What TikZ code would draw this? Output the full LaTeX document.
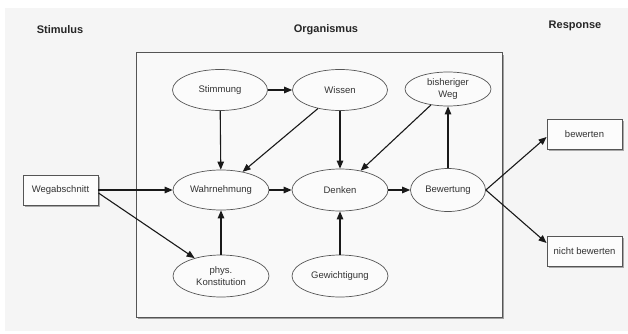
\documentclass[tikz,border=0pt]{standalone}
\usepackage{fontspec}
\setmainfont{Liberation Sans}
\usetikzlibrary{shapes.geometric,arrows.meta,shadows,calc}
\definecolor{bggray}{HTML}{F5F5F5}
\definecolor{linegray}{HTML}{555555}
\definecolor{txtgray}{HTML}{333333}
\tikzset{
  ell/.style={ellipse, draw=linegray, line width=0.7pt, fill=white!60!bggray, inner sep=0pt,
     text=txtgray, font=\fontsize{9.5}{11.5}\selectfont, align=center},
  rbox/.style={rectangle, draw=linegray, line width=0.9pt, fill=white!70!bggray, inner sep=0pt,
     minimum width=75pt, minimum height=30pt, text=txtgray, font=\fontsize{9.5}{11.5}\selectfont,
     drop shadow={shadow xshift=1.5pt, shadow yshift=-1.5pt, opacity=0.45, fill=black!70}},
  title/.style={font=\bfseries\fontsize{11}{13}\selectfont, text=black!85},
  arr/.style={-{Triangle[length=8pt,width=6.5pt]}, line width=1.1pt, black!90},
}
\begin{document}
\begin{tikzpicture}[x=1pt,y=-1pt]
\useasboundingbox (0,0) rectangle (628,334);
\fill[bggray] (5,8) rectangle (628,331);
% Organismus frame
\node[rectangle, draw=linegray, line width=1pt, fill=white!40!bggray, minimum width=366pt, minimum height=264pt, inner sep=0pt,
  drop shadow={shadow xshift=1.8pt, shadow yshift=-1.8pt, opacity=0.5, fill=black!70}] (frame) at (319,185) {};
% titles
\node[title] (tstim) at (60,30) {Stimulus};
\node[title] (torg) at (326,30) {Organismus};
\node[title] (tresp) at (575,26) {Response};
% ellipses
\node[ell, minimum width=95pt, minimum height=41pt] (stimmung) at (220,90) {Stimmung};
\node[ell, minimum width=95pt, minimum height=41pt] (wissen) at (340,90) {Wissen};
\node[ell, minimum width=86pt, minimum height=34pt] (bweg) at (448,89) {bisheriger\\Weg};
\node[ell, minimum width=96pt, minimum height=40pt] (wahr) at (221,190) {Wahrnehmung};
\node[ell, minimum width=96pt, minimum height=42pt] (denken) at (340,190) {Denken};
\node[ell, minimum width=75pt, minimum height=43pt] (bewertung) at (448,190) {Bewertung};
\node[ell, minimum width=96pt, minimum height=42pt] (phys) at (221,276) {phys.\\Konstitution};
\node[ell, minimum width=96pt, minimum height=42pt] (gew) at (340,276) {Gewichtigung};
% boxes
\node[rbox] (wegab) at (60.5,190) {Wegabschnitt};
\node[rbox] (bew) at (584.5,134) {bewerten};
\node[rbox] (nbew) at (584.5,251) {nicht bewerten};
% connectors
\draw[arr] (stimmung) -- (wissen);
\draw[arr] (stimmung) -- (wahr);
\draw[arr] (wissen) -- (wahr);
\draw[arr] (wissen) -- (denken);
\draw[arr] (bweg) -- (denken);
\draw[arr] (bewertung) -- (bweg);
\draw[arr] (wegab.east) -- (wahr);
\draw[arr] ($(wegab.east)+(0,3)$) -- (phys);
\draw[arr] (wahr) -- (denken);
\draw[arr] (phys) -- (wahr);
\draw[arr] (gew) -- (denken);
\draw[arr] (denken) -- (bewertung);
\draw[arr] (bewertung.east) -- ($(bew.west)+(0,3)$);
\draw[arr] (bewertung.east) -- ($(nbew.west)+(0,-8)$);
\end{tikzpicture}
\end{document}
